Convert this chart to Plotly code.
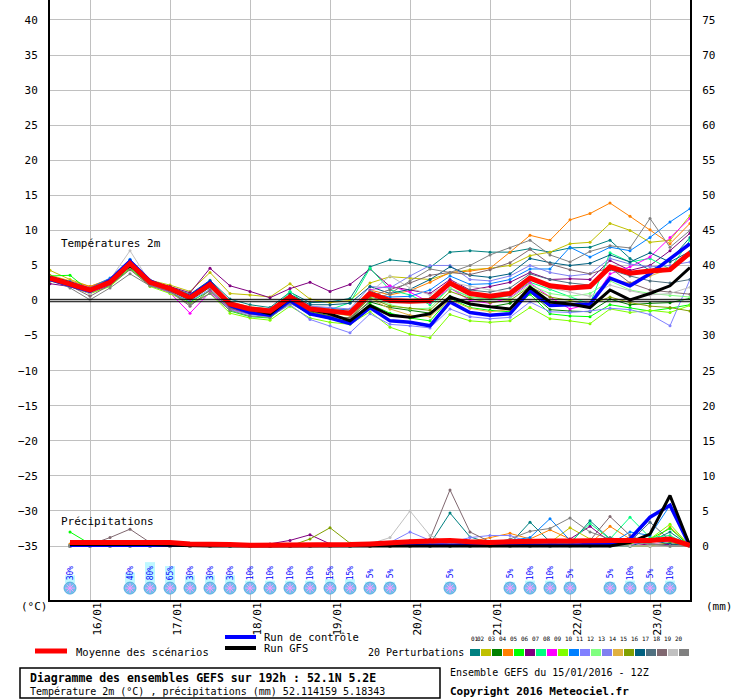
import pandas as pd
import plotly.graph_objects as go

# 6-hourly steps of the run, 15/01/2016 12Z + 192h
times = pd.date_range('2016-01-15 12:00', periods=33, freq='6h')
day_ticks = pd.date_range('2016-01-16', periods=8, freq='D')
day_labels = ['16/01', '17/01', '18/01', '19/01', '20/01', '21/01', '22/01', '23/01']

# temperature 2m (C)
t_mean = [3.2, 2.4, 1.5, 2.6, 5.3, 2.6, 1.7, 0.4, 2.3, -0.5, -1.2, -1.5, 0.5, -1.2, -1.5, -1.8, 1.0,
          0.0, -0.1, 0.0, 2.5, 1.0, 0.6, 1.0, 3.2, 2.1, 1.8, 2.0, 4.8, 3.9, 4.2, 4.4, 6.8]
t_ctrl = [3.0, 2.2, 1.3, 2.9, 5.6, 2.8, 1.6, 0.6, 2.6, -0.7, -1.7, -2.1, 0.0, -1.9, -2.5, -3.3, -1.0,
          -2.9, -3.1, -3.6, -0.2, -1.7, -2.1, -1.9, 1.4, -0.7, -0.6, -0.5, 3.2, 2.1, 3.8, 6.0, 8.1]
t_gfs = [3.3, 2.5, 1.4, 2.7, 5.0, 2.5, 1.8, 0.5, 2.4, -0.6, -1.2, -1.9, 0.4, -1.3, -1.9, -2.9, -0.7,
         -2.1, -2.4, -1.9, 0.5, -0.5, -0.9, -1.2, 1.9, -0.2, -0.5, -1.0, 1.5, 0.1, 1.0, 2.1, 4.7]

t_p01 = [3.5, 2.6, 1.6, 2.9, 5.8, 2.9, 1.9, 0.9, 2.9, 0.2, -0.6, -1.0, 1.2, -0.3, -0.2, 0.3, 4.8,
         5.8, 5.5, 4.7, 6.9, 7.1, 6.9, 6.9, 7.4, 6.9, 7.5, 7.6, 8.6, 6.0, 4.3, 5.7, 9.0]
t_p02 = [4.3, 3.0, 2.0, 3.0, 5.5, 2.9, 2.2, 1.3, 4.0, 1.0, 0.8, 0.5, 2.4, 0.2, -0.3, 0.0, 2.5,
         3.4, 3.2, 3.0, 3.9, 4.4, 4.6, 5.0, 6.4, 6.9, 8.1, 8.3, 11.0, 10.0, 8.3, 8.6, 12.1]
t_p03 = [3.0, 2.2, 1.2, 2.4, 5.0, 2.4, 1.4, 0.0, 1.9, -1.0, -1.8, -2.2, -0.1, -1.6, -2.2, -2.5, -0.2,
         -1.0, -1.4, -1.8, 0.6, -0.5, -0.9, -0.4, 1.2, -1.3, -1.5, -1.6, 0.2, -0.6, -0.4, -0.3, 0.3]
t_p04 = [3.6, 2.8, 2.0, 3.1, 5.6, 2.8, 1.9, 0.6, 2.5, -0.2, -0.9, -1.2, 0.8, -0.8, -1.2, -1.3, 1.5,
         0.8, 1.4, 2.6, 4.0, 4.2, 4.6, 6.9, 9.3, 8.6, 11.5, 12.4, 13.9, 12.0, 10.1, 8.1, 11.0]
t_p05 = [3.5, 3.6, 1.3, 2.2, 4.6, 2.2, 1.2, -0.2, 1.4, -1.5, -2.3, -2.5, -0.3, -2.0, -2.6, -3.0, -0.5,
         -1.8, -2.5, -2.9, 0.3, -1.0, -1.4, -1.6, 0.9, -1.9, -2.2, -2.3, -0.6, -1.0, -1.5, -1.1, -0.6]
t_p06 = [2.4, 2.0, 1.0, 2.2, 4.9, 2.7, 2.0, 1.1, 4.6, 2.1, 1.3, 0.4, 1.7, 2.6, 1.3, 2.3, 4.5,
         2.0, 1.5, 1.0, 3.0, 1.5, 2.0, 2.6, 4.0, 3.0, 3.1, 3.0, 5.7, 4.3, 5.0, 7.1, 9.6]
t_p07 = [3.1, 2.3, 1.4, 2.7, 5.4, 2.5, 1.5, 0.3, 2.2, -0.6, -1.3, -1.7, 1.3, -1.0, -1.3, -0.3, 4.6,
         1.5, 0.8, -0.6, 1.7, 0.5, 0.2, 0.7, 2.6, 1.6, 0.6, -0.5, 6.8, 5.5, 6.0, 4.5, 8.6]
t_p08 = [3.0, 2.1, 1.1, 2.3, 4.9, 2.2, 1.1, -1.8, 1.2, -1.2, -1.9, -2.0, 0.2, -1.5, -1.8, -2.0, 1.5,
         2.1, 1.2, -0.3, 1.8, 0.0, -0.4, 0.4, 2.5, 0.5, -1.2, -0.5, 3.8, 4.8, 6.2, 9.0, 11.7]
t_p09 = [2.8, 2.0, 1.0, 2.0, 4.5, 2.0, 1.0, -0.4, 1.0, -1.8, -2.5, -2.8, -0.8, -2.5, -3.1, -3.4, -1.6,
         -3.8, -4.8, -5.3, -2.0, -2.9, -3.1, -2.9, -1.0, -2.6, -2.9, -3.3, -1.2, -1.7, -1.4, -1.7, -0.7]
t_p10 = [3.4, 2.7, 1.8, 3.2, 5.9, 2.9, 1.9, 0.6, 2.6, -0.3, -1.0, -1.3, 0.7, -1.0, -1.1, -1.4, 1.0,
         0.5, 0.6, 1.5, 3.5, 2.3, 2.4, 3.0, 4.5, 4.5, 7.6, 6.2, 7.6, 7.1, 9.0, 11.2, 13.1]
t_p11 = [2.9, 2.0, 1.1, 2.4, 5.1, 2.3, 1.2, -0.1, 1.6, -1.3, -2.0, -2.3, -0.6, -2.7, -3.6, -4.6, -1.9,
         -3.4, -3.6, -3.9, -1.2, -2.3, -2.6, -2.4, -0.2, -1.6, -1.7, -1.5, -1.1, -1.3, -2.0, -3.6, 3.0]
t_p12 = [3.3, 2.5, 1.4, 2.5, 5.2, 2.5, 1.8, 0.8, 2.2, -0.7, -1.6, -1.8, 0.2, -1.4, -1.8, -2.1, 0.6,
         -0.6, -1.2, -1.1, 1.8, 0.5, 0.2, 0.3, 2.2, 1.0, 0.6, 1.0, 2.8, 1.5, 1.0, 0.7, 0.5]
t_p13 = [3.2, 2.6, 1.7, 2.7, 5.1, 2.4, 1.6, 0.3, 2.3, -0.4, -1.0, -1.2, 0.7, -0.8, -1.0, -1.2, 2.0,
         1.8, 3.5, 5.0, 5.0, 3.0, 2.8, 3.5, 5.0, 4.0, 3.5, 3.8, 6.0, 5.2, 4.8, 5.0, 5.5]
t_p14 = [3.4, 2.4, 1.6, 2.8, 5.4, 2.6, 1.7, 0.5, 2.0, -0.8, -1.4, -1.7, 0.3, -1.3, -1.7, -2.2, 0.3,
         -1.2, -2.1, -2.3, 0.1, -1.1, -1.6, -1.3, 1.5, -0.4, -0.6, -0.3, 3.0, 2.5, 3.5, 4.5, 6.4]
t_p15 = [3.2, 2.3, 1.3, 2.5, 5.0, 2.7, 1.8, 0.3, 2.1, -0.9, -1.7, -2.0, 0.0, -1.5, -2.3, -2.6, 0.4,
         -0.8, -1.1, -1.4, 1.3, 0.3, -0.3, 0.0, 2.0, 0.5, 0.0, -0.6, 0.5, -0.3, -0.8, -1.0, -1.5]
t_p16 = [3.1, 2.3, 1.5, 2.8, 5.7, 2.8, 1.8, 0.6, 2.7, -0.4, -1.1, -1.4, 0.9, -0.6, -0.6, -0.4, 2.0,
         1.0, 1.6, 3.0, 4.8, 3.6, 3.3, 3.8, 6.0, 5.4, 5.0, 5.3, 6.5, 5.5, 6.8, 5.5, 7.0]
t_p17 = [3.0, 2.2, 1.4, 2.6, 5.2, 2.6, 1.6, 0.2, 2.4, -0.6, -1.3, -1.6, 0.4, -1.1, -1.4, -1.6, 1.4,
         0.2, 0.0, 0.3, 2.6, 1.5, 1.2, 1.8, 3.8, 3.0, 2.5, 2.2, 4.4, 3.5, 2.8, 2.5, 3.0]
t_p18 = [2.9, 2.1, 0.6, 2.2, 4.4, 2.1, 1.3, -0.8, 1.5, -1.1, -1.9, -2.2, -0.2, -1.8, -2.3, -2.5, 0.6,
         1.5, 2.5, 3.6, 4.0, 3.7, 4.4, 5.4, 7.3, 5.2, 4.4, 3.8, 4.7, 2.5, 1.5, 1.2, 0.9]
t_p19 = [3.3, 2.2, 1.0, 3.0, 7.1, 2.6, 1.6, 0.2, 2.2, -0.5, -1.2, -1.5, 0.4, -1.0, -1.3, -1.5, 1.2,
         3.5, 1.8, 0.8, 2.6, 2.0, 1.5, 1.2, 3.0, 1.8, 1.2, 0.6, 2.2, 1.4, 0.8, 1.0, 1.9]
t_p20 = [3.0, 1.8, 0.1, 1.8, 3.8, 2.1, 1.4, -0.6, 1.0, -1.4, -2.2, -2.4, -0.4, -1.9, -2.4, -2.7, 0.0,
         1.0, 2.8, 4.5, 4.0, 5.0, 6.5, 7.5, 8.6, 6.5, 5.5, 7.0, 7.8, 7.5, 11.7, 7.6, 10.0]

# precipitation (mm per 6h), from 15/01 18Z onwards
r_mean = [0.5, 0.5, 0.5, 0.6, 0.6, 0.5, 0.3, 0.3, 0.2, 0.1, 0.1, 0.2, 0.2, 0.2, 0.2, 0.3,
          0.5, 0.6, 0.7, 0.8, 0.6, 0.5, 0.6, 0.7, 0.7, 0.7, 0.8, 0.8, 0.8, 0.8, 1.0, 0.1]
r_ctrl = [0.1, 0.1, 0.1, 0.1, 0.1, 0.1, 0.1, 0.1, 0.0, 0.0, 0.0, 0.0, 0.0, 0.0, 0.0, 0.0,
          0.0, 0.1, 0.1, 0.1, 0.1, 0.0, 0.0, 0.1, 0.1, 0.1, 0.2, 0.3, 1.0, 4.1, 5.8, 0.0]
r_gfs = [0.2, 0.2, 0.2, 0.3, 0.2, 0.1, 0.0, 0.0, 0.0, 0.0, 0.0, 0.0, 0.0, 0.0, 0.0, 0.0,
         0.0, 0.0, 0.0, 0.0, 0.0, 0.0, 0.0, 0.0, 0.0, 0.0, 0.0, 0.0, 0.5, 1.7, 7.2, 0.0]
r_p01 = [0.2, 0.2, 0.2, 0.3, 0.2, 0.2, 0.0, 0.0, 0.0, 0.0, 0.0, 0.0, 0.0, 0.0, 0.0, 0.3,
         0.3, 0.3, 0.3, 4.7, 1.3, 0.4, 0.3, 3.4, 0.6, 0.3, 3.6, 1.0, 0.5, 0.6, 2.0, 0.0]
r_p02 = [0.0, 0.0, 0.0, 0.4, 0.0, 0.0, 0.0, 0.0, 0.0, 0.0, 0.0, 0.0, 0.0, 0.0, 0.0, 0.0,
         0.0, 0.0, 0.0, 0.0, 0.0, 0.0, 0.2, 0.3, 0.5, 2.6, 1.0, 0.3, 0.0, 0.0, 0.2, 0.0]
r_p03 = [0.0, 0.0, 0.0, 0.0, 0.0, 0.0, 0.0, 0.0, 0.0, 0.0, 0.0, 0.0, 0.0, 0.0, 0.0, 0.0,
         0.0, 0.0, 0.0, 0.0, 0.0, 0.0, 0.0, 0.0, 0.0, 0.0, 0.0, 0.3, 0.0, 0.0, 0.0, 0.0]
r_p04 = [0.3, 0.3, 0.3, 0.5, 0.3, 0.2, 0.0, 0.0, 0.0, 0.0, 0.0, 0.0, 0.0, 0.0, 0.0, 0.0,
         0.0, 0.3, 0.3, 0.4, 0.6, 1.2, 1.8, 1.0, 2.3, 1.0, 0.4, 2.8, 1.0, 0.5, 2.7, 0.0]
r_p05 = [2.0, 0.3, 0.0, 0.0, 0.0, 0.0, 0.0, 0.0, 0.0, 0.0, 0.0, 0.0, 0.0, 0.0, 0.4, 0.0,
         0.0, 0.0, 0.0, 0.0, 0.0, 0.0, 0.0, 0.0, 0.0, 0.0, 0.0, 0.0, 0.3, 1.0, 2.5, 0.0]
r_p06 = [0.0, 0.0, 0.0, 0.2, 0.0, 0.0, 0.0, 0.2, 0.2, 0.0, 0.3, 0.8, 1.6, 0.3, 0.0, 0.0,
         0.0, 0.0, 0.0, 0.0, 0.0, 0.0, 0.0, 0.0, 0.3, 1.0, 2.8, 0.6, 0.0, 0.3, 0.2, 0.0]
r_p07 = [0.0, 0.0, 0.0, 0.0, 0.0, 0.0, 0.0, 0.0, 0.0, 0.0, 0.0, 0.0, 0.0, 0.0, 0.0, 0.0,
         0.0, 0.0, 0.0, 0.0, 0.0, 0.0, 0.0, 0.0, 0.0, 0.5, 3.2, 1.0, 4.1, 1.2, 1.5, 0.0]
r_p08 = [0.0, 0.0, 0.0, 0.0, 0.0, 0.0, 0.0, 0.0, 0.0, 0.0, 0.0, 0.0, 0.0, 0.0, 0.0, 0.0,
         0.0, 0.0, 0.0, 0.0, 0.0, 0.0, 0.0, 0.0, 0.0, 0.0, 0.0, 0.0, 0.2, 0.8, 0.6, 0.0]
r_p09 = [0.0, 0.0, 0.0, 0.0, 0.0, 0.0, 0.0, 0.0, 0.0, 0.0, 0.0, 0.0, 0.0, 0.0, 0.0, 0.0,
         0.0, 0.0, 0.0, 0.0, 0.0, 0.0, 0.0, 0.0, 0.0, 0.0, 0.0, 0.0, 0.3, 1.0, 3.1, 0.0]
r_p10 = [0.0, 0.1, 0.2, 0.3, 0.1, 0.0, 0.0, 0.0, 0.0, 0.0, 0.0, 0.0, 0.0, 0.0, 0.0, 0.0,
         0.0, 0.0, 0.0, 0.2, 0.5, 0.6, 0.8, 1.2, 3.9, 0.8, 0.4, 0.3, 2.0, 1.5, 5.8, 0.0]
r_p11 = [0.0, 0.0, 0.0, 0.0, 0.0, 0.0, 0.0, 0.0, 0.0, 0.0, 0.0, 0.0, 0.0, 0.0, 0.0, 0.3,
         0.5, 2.0, 0.8, 0.5, 1.2, 1.5, 1.5, 0.5, 0.0, 0.0, 0.0, 0.0, 0.0, 0.0, 0.0, 0.0]
r_p12 = [0.0, 0.0, 0.0, 0.0, 0.0, 0.0, 0.0, 0.0, 0.0, 0.0, 0.0, 0.0, 0.0, 0.0, 0.0, 0.0,
         0.0, 0.0, 0.0, 0.0, 0.0, 0.0, 0.0, 0.0, 0.0, 0.0, 0.0, 0.5, 0.8, 0.3, 0.0, 0.0]
r_p13 = [0.0, 0.0, 0.0, 0.0, 0.0, 0.0, 0.0, 0.0, 0.0, 0.0, 0.0, 0.0, 0.0, 0.0, 0.0, 0.3,
         0.5, 0.8, 0.5, 0.2, 0.0, 0.0, 0.0, 0.0, 0.0, 0.0, 0.0, 0.0, 0.0, 0.0, 0.0, 0.0]
r_p14 = [0.0, 0.3, 0.3, 0.3, 0.0, 0.0, 0.0, 0.0, 0.0, 0.0, 0.0, 0.0, 0.0, 0.0, 0.0, 0.0,
         0.0, 0.0, 0.0, 0.0, 0.0, 0.0, 0.0, 0.0, 0.8, 0.3, 0.0, 0.0, 0.0, 0.0, 0.0, 0.0]
r_p15 = [0.0, 0.0, 0.0, 0.0, 0.0, 0.0, 0.0, 0.0, 0.0, 0.0, 0.0, 0.0, 1.0, 2.6, 0.4, 0.0,
         0.0, 0.0, 0.0, 0.0, 0.0, 0.0, 0.0, 0.0, 0.0, 0.0, 0.0, 0.0, 0.0, 0.0, 0.5, 0.0]
r_p16 = [0.0, 0.0, 0.6, 0.4, 0.3, 0.0, 0.0, 0.0, 0.0, 0.0, 0.0, 0.0, 0.0, 0.0, 0.0, 0.0,
         0.0, 0.0, 0.0, 0.0, 0.0, 0.0, 0.0, 0.0, 0.0, 0.0, 0.0, 0.0, 0.0, 0.8, 0.3, 0.0]
r_p17 = [0.0, 0.0, 0.0, 0.0, 0.0, 0.0, 0.0, 0.0, 0.0, 0.0, 0.0, 0.0, 0.0, 0.0, 0.0, 0.0,
         0.0, 0.0, 0.0, 0.0, 0.0, 0.0, 0.0, 0.0, 0.0, 0.3, 0.8, 1.2, 0.6, 3.4, 0.8, 0.0]
r_p18 = [0.0, 0.2, 1.2, 2.4, 0.5, 0.0, 0.0, 0.0, 0.0, 0.0, 0.0, 0.0, 0.0, 0.0, 0.0, 0.0,
         0.0, 0.3, 1.0, 8.0, 2.0, 0.6, 0.3, 0.3, 0.3, 0.5, 0.8, 4.2, 1.5, 0.3, 0.0, 0.0]
r_p19 = [0.0, 0.0, 0.0, 0.0, 0.0, 0.0, 0.0, 0.0, 0.0, 0.0, 0.0, 0.0, 0.0, 0.0, 0.0, 0.3,
         1.2, 5.0, 1.5, 0.3, 0.0, 0.0, 0.0, 0.0, 0.0, 0.0, 0.0, 0.0, 0.0, 0.0, 0.0, 0.0]
r_p20 = [0.0, 0.0, 0.0, 0.0, 0.0, 0.0, 0.0, 0.0, 0.0, 0.0, 0.0, 0.0, 0.0, 0.0, 0.0, 0.0,
         0.0, 0.0, 0.0, 0.0, 0.0, 0.3, 1.0, 2.1, 2.5, 4.0, 2.0, 1.0, 0.5, 0.3, 0.0, 0.0]

# probability of snow (%) per 6h step, from 15/01 18Z
snow_prob = [30, 0, 0, 40, 80, 65, 30, 30, 30, 10, 10, 10, 10, 15, 15, 5,
             5, 0, 0, 5, 0, 0, 5, 10, 10, 5, 0, 5, 10, 5, 10, 0]

pert_temp = [t_p01, t_p02, t_p03, t_p04, t_p05, t_p06, t_p07, t_p08, t_p09, t_p10,
             t_p11, t_p12, t_p13, t_p14, t_p15, t_p16, t_p17, t_p18, t_p19, t_p20]
pert_rain = [r_p01, r_p02, r_p03, r_p04, r_p05, r_p06, r_p07, r_p08, r_p09, r_p10,
             r_p11, r_p12, r_p13, r_p14, r_p15, r_p16, r_p17, r_p18, r_p19, r_p20]
pert_colors = ['#008080', '#c0c000', '#008000', '#ff8000', '#00ff00', '#800080', '#00ff80',
               '#ff00ff', '#80ff00', '#0080ff', '#8080ff', '#80ff80', '#8080f0', '#e0b040',
               '#80a000', '#006080', '#507080', '#806870', '#c0c0c0', '#808080']

FONT = 'DejaVu Sans Mono'
rain_times = times[1:]

fig = go.Figure()

# perturbations: temperature then precipitation
for temp, rain, col in zip(pert_temp, pert_rain, pert_colors):
    fig.add_trace(go.Scatter(x=times, y=temp, mode='lines+markers',
                             line=dict(color=col, width=1), marker=dict(size=3, color=col)))
    fig.add_trace(go.Scatter(x=rain_times, y=rain, yaxis='y2', mode='lines+markers',
                             line=dict(color=col, width=1), marker=dict(size=3, color=col)))

for temp, rain, col, w in [(t_ctrl, r_ctrl, '#0000ff', 3.5), (t_gfs, r_gfs, '#000000', 3),
                           (t_mean, r_mean, '#ff0000', 5)]:
    fig.add_trace(go.Scatter(x=times, y=temp, mode='lines', line=dict(color=col, width=w)))
    fig.add_trace(go.Scatter(x=rain_times, y=rain, yaxis='y2', mode='lines',
                             line=dict(color=col, width=w)))

# snow probability bars and icons
snow_t = [t for t, p in zip(rain_times, snow_prob) if p > 0]
snow_p = [p for p in snow_prob if p > 0]
fig.add_trace(go.Bar(x=snow_t, y=[p * 0.0375 for p in snow_p], base=-40.3,
                     width=3 * 3600 * 1000, marker=dict(color='#bff8ff', line=dict(width=0))))
fig.add_trace(go.Scatter(x=snow_t, y=[-41.0] * len(snow_t), mode='markers',
                         marker=dict(size=12, color='#70c0ec', line=dict(color='#5aaee0', width=1))))
fig.add_trace(go.Scatter(x=snow_t, y=[-41.0] * len(snow_t), mode='markers',
                         marker=dict(size=8, symbol='asterisk-open', line=dict(color='#e8f6ff', width=1))))

annotations = []
for t, p in zip(snow_t, snow_p):
    annotations.append(dict(x=t, y=-38.9, text=f'{p}%', textangle=-90, showarrow=False,
                            font=dict(family=FONT, size=8, color='#0000ff')))

for d, lab in zip(day_ticks, day_labels):
    annotations.append(dict(x=d, y=0, yref='paper', text=lab, textangle=-90, showarrow=False,
                            xanchor='center', yanchor='top', xshift=7, yshift=-1,
                            font=dict(family=FONT, size=11, color='black')))

def px(x):
    return (x - 50) / 640

def py(y):
    return (600 - y) / 600

def txt(x, y, s, size=11, bold=False, anchor='left'):
    annotations.append(dict(x=px(x), y=py(y), xref='paper', yref='paper', text=f'<b>{s}</b>' if bold else s,
                            showarrow=False, xanchor=anchor, yanchor='middle',
                            font=dict(family=FONT, size=size, color='black')))

txt(59, 243, 'Températures 2m', 11)
txt(59, 521, 'Précipitations', 11)
txt(19, 606, '(°C)', 11)
txt(704, 606, '(mm)', 11)
txt(74, 652, 'Moyenne des scénarios', 10.5)
txt(262, 637, 'Run de contrôle', 10.5)
txt(262, 648, 'Run GFS', 10.5)
txt(366, 652, '20 Perturbations', 10)
txt(28, 678, 'Diagramme des ensembles GEFS sur 192h : 52.1N 5.2E', 11.5, bold=True)
txt(28, 691, 'Température 2m (°C) , précipitations (mm) 52.114159 5.18343', 10)
txt(448, 672, 'Ensemble GEFS du 15/01/2016 - 12Z', 10)
txt(448, 691, 'Copyright 2016 Meteociel.fr', 11, bold=True)

shapes = [
    dict(type='line', xref='paper', yref='y', x0=0, x1=1, y0=0.17, y1=0.17, line=dict(color='black', width=1)),
    dict(type='line', xref='paper', yref='y', x0=0, x1=1, y0=-0.17, y1=-0.17, line=dict(color='black', width=1)),
    dict(type='line', xref='paper', yref='paper', x0=px(35), x1=px(67), y0=py(651), y1=py(651),
         line=dict(color='#ff0000', width=5)),
    dict(type='line', xref='paper', yref='paper', x0=px(225), x1=px(256), y0=py(637), y1=py(637),
         line=dict(color='#0000ff', width=4)),
    dict(type='line', xref='paper', yref='paper', x0=px(225), x1=px(256), y0=py(648), y1=py(648),
         line=dict(color='#000000', width=4)),
    dict(type='rect', xref='paper', yref='paper', x0=px(20), x1=px(440), y0=py(668), y1=py(698),
         line=dict(color='black', width=1.5)),
]
for k, col in enumerate(pert_colors):
    x0 = 470 + 11 * k
    shapes.append(dict(type='rect', xref='paper', yref='paper', x0=px(x0), x1=px(x0 + 10),
                       y0=py(649), y1=py(656), fillcolor=col, line=dict(width=0)))
    annotations.append(dict(x=px(x0 + 5), y=py(643), xref='paper', yref='paper', text=f'{k + 1:02d}',
                            showarrow=False, borderpad=0,
                            font=dict(family=FONT, size=6, color='black')))

fig.update_layout(
    width=740, height=700,
    margin=dict(l=50, r=50, t=0, b=100),
    paper_bgcolor='white', plot_bgcolor='white',
    showlegend=False, barmode='overlay',
    font=dict(family=FONT, size=11, color='black'),
    xaxis=dict(type='date', range=[times[0], times[-1]], tickvals=day_ticks, showticklabels=False,
               showgrid=True, gridcolor='#c0c0c0', gridwidth=1, zeroline=False,
               showline=True, linecolor='black', linewidth=2, ticks=''),
    yaxis=dict(range=[-42.7, 42.85], tickvals=list(range(-35, 41, 5)), showgrid=True,
               gridcolor='#c0c0c0', zeroline=False, showline=True, linecolor='black', linewidth=2,
               ticks='', ticklabelstandoff=8),
    yaxis2=dict(range=[-7.7, 77.85], tickvals=list(range(0, 76, 5)), overlaying='y', side='right',
                showgrid=False, zeroline=False, showline=True, linecolor='black', linewidth=2,
                ticks='', ticklabelstandoff=8),
    shapes=shapes,
    annotations=annotations,
)

# the page body has a default 8px margin; drop it so the figure sits at the window corner
fig.write_html('out.html', config={'displayModeBar': False},
               post_script="document.body.style.margin='0px';")
